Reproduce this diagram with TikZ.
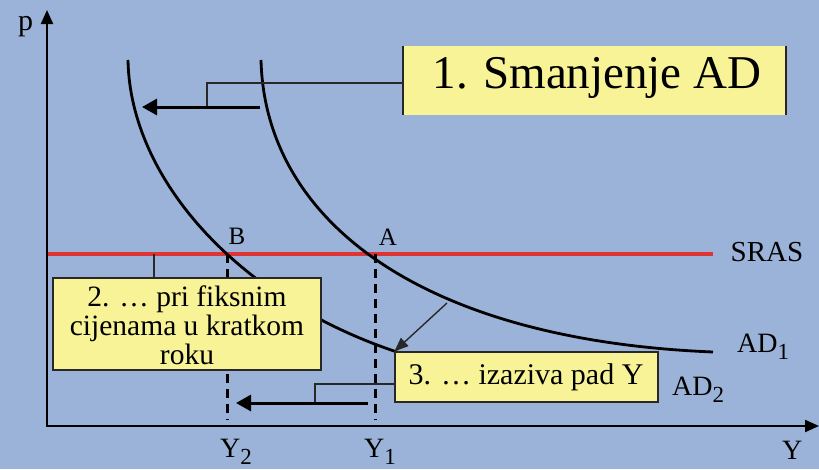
\documentclass[tikz,border=0pt]{standalone}
\usepackage{fontspec}
\setmainfont{Liberation Serif}
\usetikzlibrary{arrows.meta}
\definecolor{bg}{RGB}{155,179,216}
\definecolor{note}{RGB}{247,243,150}
\definecolor{sras}{RGB}{222,52,52}
\definecolor{edge}{RGB}{40,40,40}
\newcommand{\sz}[1]{\fontsize{#1}{#1}\selectfont}
\newcommand{\lowsub}[1]{\raisebox{-0.25em}{\sz{23}#1}}
\tikzset{
  axisline/.style={line width=2.2pt, draw=black},
  curveline/.style={line width=2.8pt, draw=black, line join=round},
  vdashed/.style={draw=black, line width=3pt, dash pattern=on 9pt off 6pt},
  notebox/.style={fill=note, draw=edge, line width=1.2pt, inner sep=0pt, align=center},
  thinline/.style={line width=1.2pt, draw=edge},
  bigarrow/.style={line width=3pt, draw=black, -{Triangle[length=15pt,width=16pt]}},
  lbl/.style={inner sep=0pt, text=black},
}
\begin{document}
\begin{tikzpicture}[x=1pt,y=-1pt]
\fill[bg] (0,0) rectangle (819,469);
\useasboundingbox (0,0) rectangle (819,469);

% axes
\coordinate (ptop) at (47,10);
\coordinate (O) at (47,426);
\coordinate (xend) at (819,426);
\draw[axisline, {Triangle[length=14pt,width=12pt]}-{Triangle[length=14pt,width=12pt]}] (ptop) -- (O) -- (xend);

% SRAS
\coordinate (srasL) at (48,254);
\coordinate (srasR) at (713,254);
\draw[draw=sras, line width=4pt] (srasL) -- (srasR);

% curves
\draw[curveline] (128,60) .. controls (130,180) and (240,300) .. (397,352) -- (440,366);
\draw[curveline] (261,60) .. controls (265,220) and (420,340) .. (713,352);

% dashed verticals
\coordinate (B) at (227,254);
\coordinate (A) at (375,254);
\coordinate (Y2b) at (227,420);
\coordinate (Y1b) at (375,420);
\draw[vdashed] (A) -- (Y1b);
\draw[vdashed] (B) -- (Y2b);

% box 1
\node[fill=note, inner sep=0pt, minimum width=383pt, minimum height=69pt] (b1) at (594.5,80.5) {};
\draw[line width=2pt, draw=black!85] (b1.north west) -- (b1.south west);
\draw[line width=2pt, draw=black!85] (b1.north east) -- (b1.south east);
\node[lbl] (t1) at (597,78) {\sz{47}1. Smanjenje AD};

% box 2
\node[notebox, minimum width=268pt, minimum height=92pt] (b2) at (187,324) {};
\node[lbl, align=center, font=\fontsize{29.5}{29}\selectfont] (t2) at (187,325) {2. \dots{} pri fiksnim\\cijenama u kratkom\\roku};

% box 3
\node[notebox, minimum width=263pt, minimum height=50pt] (b3) at (526.5,377) {};
\node[lbl] (t3) at (526,377) {\sz{30}3. \dots{} izaziva pad Y};

% bracket connectors
\coordinate (k1) at (207,107);
\coordinate (k1u) at (207,83);
\draw[thinline] (k1) -- (k1u) -- (k1u -| b1.west);
\coordinate (k2) at (154,254);
\draw[thinline] (k2) -- (k2 |- b2.north);
\coordinate (k3) at (315,403);
\coordinate (k3u) at (315,384);
\draw[thinline] (k3) -- (k3u) -- (k3u -| b3.west);

% shift arrows
\coordinate (a1s) at (260,107);
\coordinate (a1e) at (142,107);
\draw[bigarrow] (a1s) -- (a1e);
\coordinate (a2s) at (368,403);
\coordinate (a2e) at (236,403);
\draw[bigarrow] (a2s) -- (a2e);
\coordinate (a3s) at (447,303);
\draw[line width=1.4pt, draw=edge, -{Triangle[length=14pt,width=11pt]}] (a3s) -- (b3.north west);

% labels
\node[lbl, anchor=base west] (lp) at (18,30) {\sz{30}p};
\node[lbl] (lA) at (388,237) {\sz{25}A};
\node[lbl] (lB) at (237,236) {\sz{25}B};
\node[lbl] (lsras) at (767,252) {\sz{29}SRAS};
\node[lbl, anchor=base west] (lad1) at (737,352) {\sz{28}AD\lowsub{1}};
\node[lbl, anchor=base west] (lad2) at (672,395) {\sz{28}AD\lowsub{2}};
\node[lbl, anchor=base west] (ly2) at (220,457) {\sz{28}Y\lowsub{2}};
\node[lbl, anchor=base west] (ly1) at (364,457) {\sz{28}Y\lowsub{1}};
\node[lbl, anchor=base west] (ly) at (782,459) {\sz{28}Y};
\end{tikzpicture}
\end{document}
